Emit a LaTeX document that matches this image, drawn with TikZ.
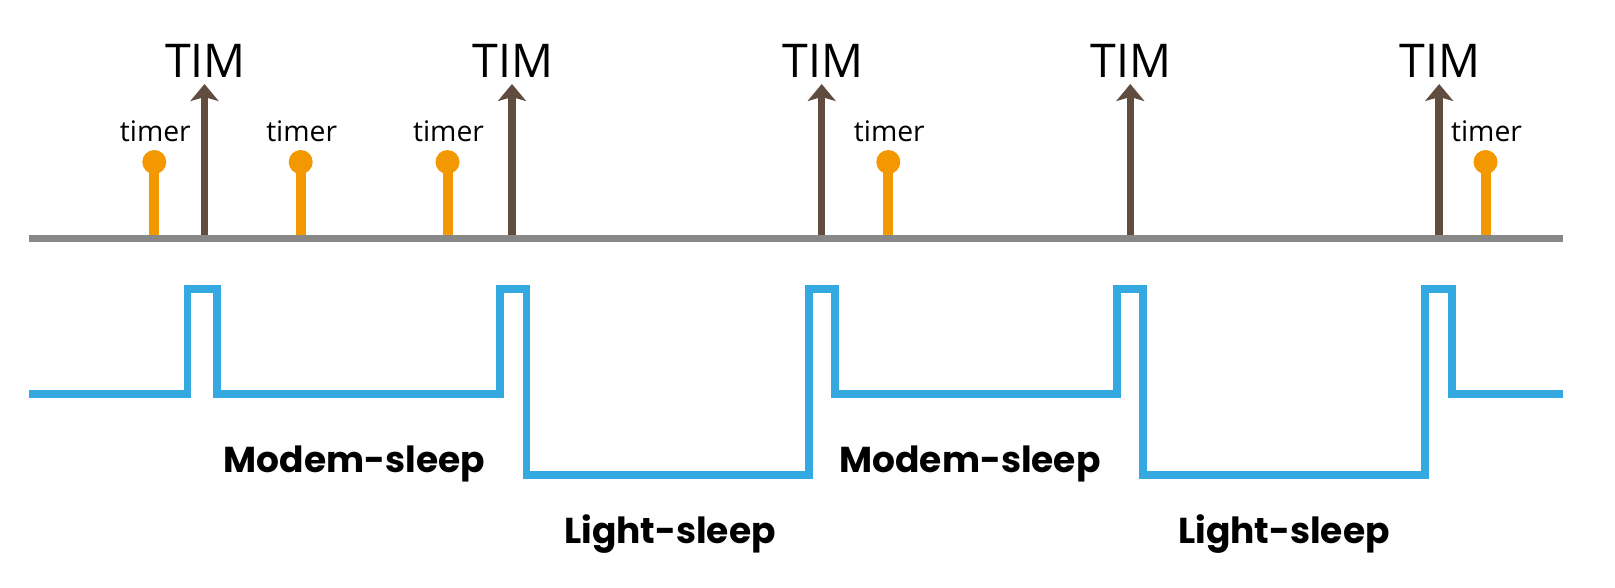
\documentclass[tikz,border=0pt]{standalone}
\usepackage{fontspec}
\setmainfont{Open Sans}
\newfontfamily\popfont{Poppins}
\usetikzlibrary{arrows.meta}
\definecolor{axisgray}{RGB}{136,136,136}
\definecolor{timbrown}{RGB}{96,77,64}
\definecolor{timerorange}{RGB}{243,152,0}
\definecolor{waveblue}{RGB}{52,168,224}
\tikzset{
  axisline/.style={draw=axisgray, line width=7pt},
  timarrow/.style={draw=timbrown, line width=7.5pt, -{Stealth[width=28pt,length=17pt,inset=4pt]}},
  timerstem/.style={draw=timerorange, line width=10pt},
  timerhead/.style={circle, fill=timerorange, minimum size=24pt, inner sep=0pt},
  timlabel/.style={anchor=base, inner sep=0pt, font=\fontsize{46.5}{46.5}\selectfont},
  timerlabel/.style={anchor=base, inner sep=0pt, font=\fontsize{28.3}{28.3}\selectfont},
  modelabel/.style={anchor=base, inner sep=0pt, font=\popfont\bfseries\fontsize{36}{36}\selectfont},
  wave/.style={draw=waveblue, line width=7.7pt, line join=miter, line cap=butt}
}
\begin{document}
\begin{tikzpicture}[x=1pt,y=-1pt]
\useasboundingbox (0,0) rectangle (1615,587);
% axis ends
\coordinate (axL) at (29,238.5);
\coordinate (axR) at (1563,238.5);
% TIM arrows
\foreach \i/\x in {1/204.5,2/512,3/821.7,4/1130.3,5/1439.2}{
  \coordinate (tb\i) at (\x,238.5);
  \coordinate (tt\i) at (\x,84);
  \draw[timarrow] (tb\i) -- (tt\i);
  \node[timlabel] (tim\i) at (\x+1,77) {TIM};
}
% timers
\foreach \i/\x in {1/154.3,2/300.7,3/447.5,4/888.3,5/1485.5}{
  \coordinate (sb\i) at (\x,238.5);
  \node[timerhead] (th\i) at (\x,162) {};
  \draw[timerstem] (sb\i) -- (th\i.center);
  \node[timerlabel] (tl\i) at (\x+1,141) {timer};
}
\draw[axisline] (axL) -- (axR);
% waveform
\coordinate (w0) at (29,394);
\coordinate (w1) at (1563,394);
\draw[wave] (w0) -- (187.5,394) -- (187.5,289) -- (217,289) -- (217,394)
  -- (500,394) -- (500,289) -- (526.5,289) -- (526.5,475) -- (809,475)
  -- (809,289) -- (835,289) -- (835,394) -- (1117,394) -- (1117,289)
  -- (1143,289) -- (1143,475) -- (1425,475) -- (1425,289) -- (1452,289)
  -- (1452,394) -- (w1);
% mode labels
\node[modelabel] (m1) at (354.5,472) {Modem-sleep};
\node[modelabel] (m2) at (970,472) {Modem-sleep};
\node[modelabel] (l1) at (670,543) {Light-sleep};
\node[modelabel] (l2) at (1284,543) {Light-sleep};
\end{tikzpicture}
\end{document}
